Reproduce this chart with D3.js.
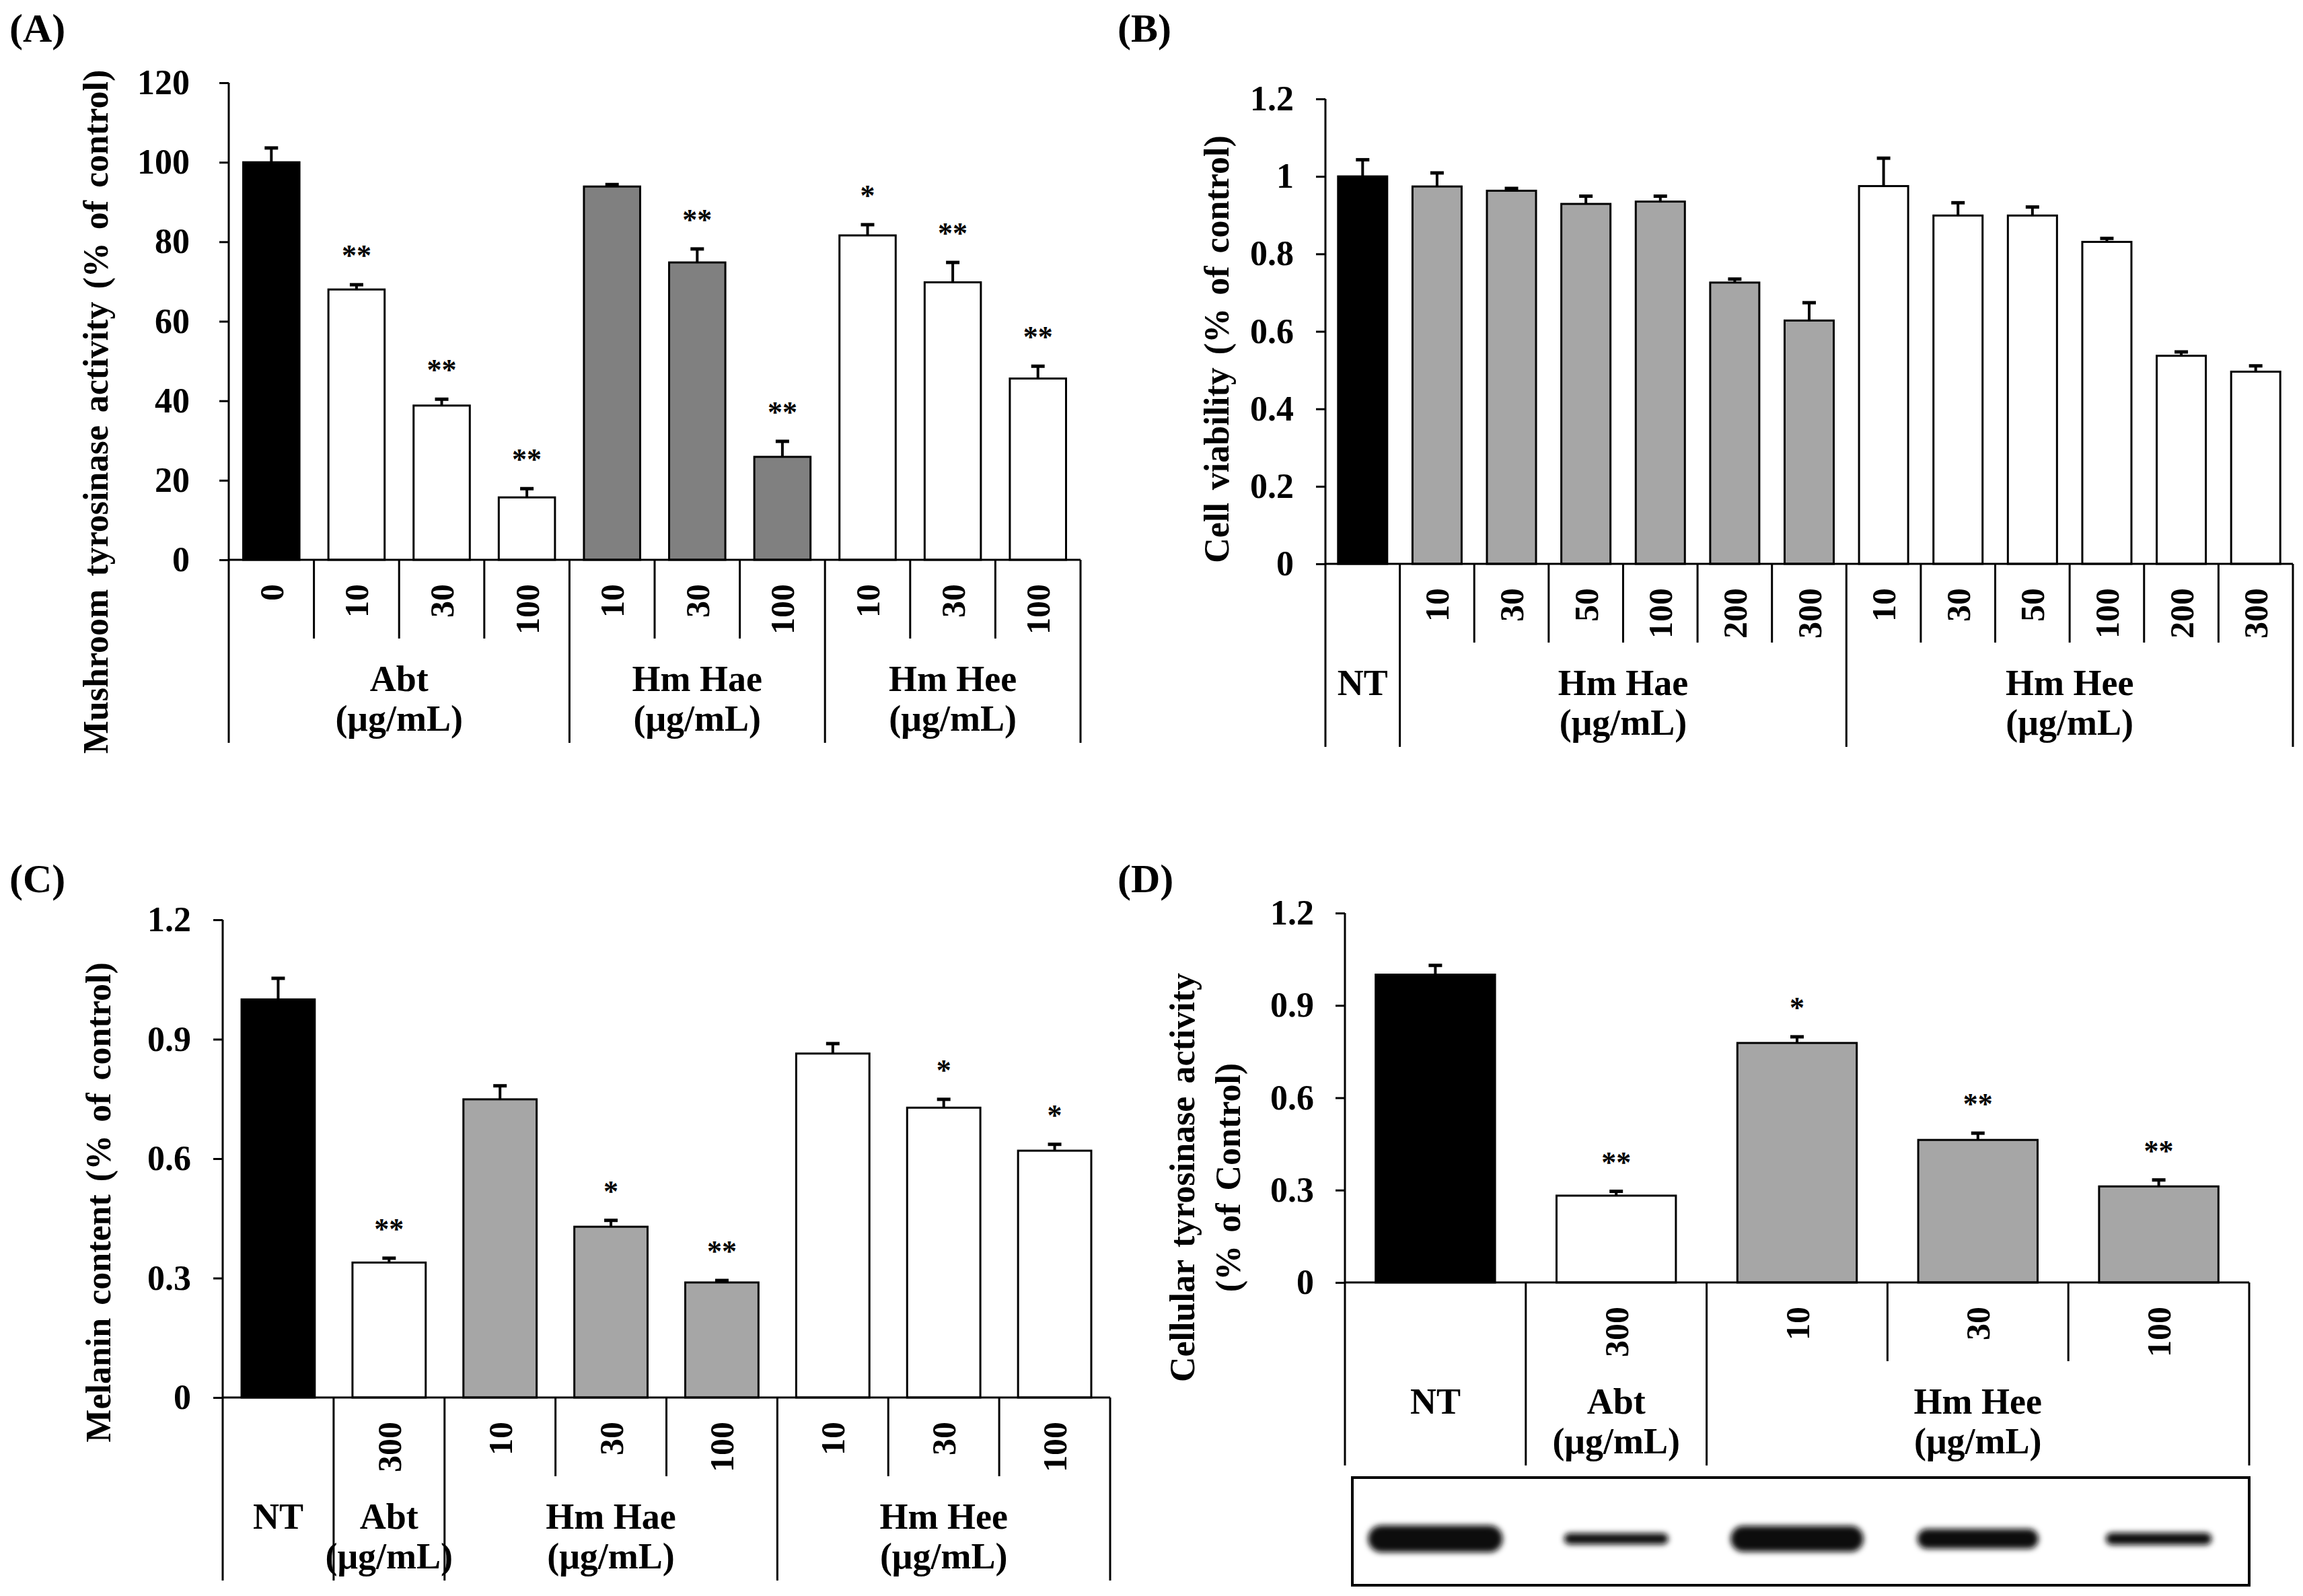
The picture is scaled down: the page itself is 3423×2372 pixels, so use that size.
<!DOCTYPE html>
<html>
<head>
<meta charset="utf-8">
<script src="https://cdn.jsdelivr.net/npm/d3@7"></script>
<style>
body { margin: 0; background: #fff; }
text { font-family: "Liberation Serif", "Times New Roman", serif; font-weight: bold; fill: #000; }
</style>
</head>
<body>
<div id="container"></div>
<script>
// (A) mushroom tyrosinase activity
const aCats = ["0", "10", "30", "100", "10", "30", "100", "10", "30", "100"];
const aSeries = ["abtCtl", "abt", "abt", "abt", "hae", "hae", "hae", "hee", "hee", "hee"];
const aValues = [100, 68.0, 38.8, 15.7, 93.9, 74.8, 25.9, 81.6, 69.8, 45.6];
const aErrors = [3.6, 1.2, 1.6, 2.2, 0.5, 3.4, 3.9, 2.7, 5.0, 3.1];
const aStars = ["", "**", "**", "**", "", "**", "**", "*", "**", "**"];
const aGroups = [["Abt", "(μg/mL)"], ["Hm Hae", "(μg/mL)"], ["Hm Hee", "(μg/mL)"]];
const aGroupSizes = [4, 3, 3];
const aTicks = [0, 20, 40, 60, 80, 100, 120];
const aTickLabels = ["0", "20", "40", "60", "80", "100", "120"];

// (B) cell viability
const bCats = ["", "10", "30", "50", "100", "200", "300", "10", "30", "50", "100", "200", "300"];
const bSeries = ["nt", "hae", "hae", "hae", "hae", "hae", "hae", "hee", "hee", "hee", "hee", "hee", "hee"];
const bValues = [1.0, 0.974, 0.963, 0.929, 0.935, 0.726, 0.628, 0.975, 0.899, 0.899, 0.831, 0.537, 0.496];
const bErrors = [0.043, 0.035, 0.006, 0.02, 0.014, 0.009, 0.046, 0.072, 0.033, 0.022, 0.009, 0.01, 0.015];
const bGroups = [["NT"], ["Hm Hae", "(μg/mL)"], ["Hm Hee", "(μg/mL)"]];
const bGroupSizes = [1, 6, 6];
const bTicks = [0, 0.2, 0.4, 0.6, 0.8, 1.0, 1.2];
const bTickLabels = ["0", "0.2", "0.4", "0.6", "0.8", "1", "1.2"];

// (C) melanin content
const cCats = ["", "300", "10", "30", "100", "10", "30", "100"];
const cSeries = ["nt", "abt", "hae", "hae", "hae", "hee", "hee", "hee"];
const cValues = [1.0, 0.339, 0.749, 0.429, 0.289, 0.864, 0.728, 0.620];
const cErrors = [0.053, 0.011, 0.034, 0.016, 0.005, 0.025, 0.021, 0.016];
const cStars = ["", "**", "", "*", "**", "", "*", "*"];
const cGroups = [["NT"], ["Abt", "(μg/mL)"], ["Hm Hae", "(μg/mL)"], ["Hm Hee", "(μg/mL)"]];
const cGroupSizes = [1, 1, 3, 3];
const cdTicks = [0, 0.3, 0.6, 0.9, 1.2];
const cdTickLabels = ["0", "0.3", "0.6", "0.9", "1.2"];

// (D) cellular tyrosinase activity
const dCats = ["", "300", "10", "30", "100"];
const dSeries = ["nt", "abt", "hee", "hee", "hee"];
const dValues = [1.0, 0.282, 0.778, 0.463, 0.312];
const dErrors = [0.03, 0.014, 0.02, 0.022, 0.021];
const dStars = ["", "**", "*", "**", "**"];
const dGroups = [["NT"], ["Abt", "(μg/mL)"], ["Hm Hee", "(μg/mL)"]];
const dGroupSizes = [1, 1, 3];
// relative band strength on the blot, one per lane
const dBlotBands = [1.0, 0.1, 0.95, 0.6, 0.15];

const width = 3423;
const height = 2372;

const svg = d3.select("#container").append("svg")
    .attr("width", width)
    .attr("height", height)
    .attr("viewBox", `0 0 ${width} ${height}`);

svg.append("rect").attr("width", width).attr("height", height).attr("fill", "#fff");

const defs = svg.append("defs");
defs.append("filter").attr("id", "blur")
    .attr("x", "-20%").attr("y", "-60%").attr("width", "140%").attr("height", "220%")
    .append("feGaussianBlur").attr("stdDeviation", 4);

function drawPanel(p) {
    const n = p.cats.length;
    const x = d3.scaleBand()
        .domain(d3.range(n))
        .range([p.left, p.right])
        .paddingInner(0)
        .paddingOuter(0);
    const y = d3.scaleLinear()
        .domain([0, p.yMax])
        .range([p.bottom, p.top]);
    const y0 = y(0);
    const bw = x.bandwidth();
    const barW = bw * 0.66;

    const g = svg.append("g");

    // panel letter
    g.append("text")
        .attr("x", p.letterX)
        .attr("y", p.letterY)
        .attr("font-size", 60)
        .text(p.letter);

    // y axis ticks + labels
    const yAxis = g.append("g")
        .attr("transform", `translate(${p.left},0)`)
        .call(d3.axisLeft(y)
            .tickValues(p.ticks)
            .tickFormat((d, i) => p.tickLabels[i])
            .tickSize(14)
            .tickSizeOuter(0)
            .tickPadding(p.tickPad));
    yAxis.select(".domain").remove();
    yAxis.selectAll(".tick line").attr("stroke", "#000").attr("stroke-width", 3);
    yAxis.selectAll(".tick text")
        .attr("font-size", 52)
        .attr("font-family", "Liberation Serif, serif")
        .attr("font-weight", "bold")
        .attr("fill", "#000");

    // y axis title
    p.title.forEach((t, i) => {
        g.append("text")
            .attr("transform", `translate(${p.titleX[i]},${p.titleY}) rotate(-90)`)
            .attr("text-anchor", "middle")
            .attr("dy", "0.35em")
            .attr("font-size", 52)
            .attr("word-spacing", 6)
            .text(t);
    });

    // bars
    g.append("g")
        .selectAll("rect")
        .data(p.values)
        .join("rect")
        .attr("x", (d, i) => x(i) + (bw - barW) / 2)
        .attr("y", d => y(d))
        .attr("width", barW)
        .attr("height", d => y0 - y(d))
        .attr("fill", (d, i) => p.colors[p.series[i]])
        .attr("stroke", "#000")
        .attr("stroke-width", 3);

    // error bars (upper only)
    const err = g.append("g")
        .selectAll("g")
        .data(p.values)
        .join("g");
    err.append("line")
        .attr("x1", (d, i) => x(i) + bw / 2)
        .attr("x2", (d, i) => x(i) + bw / 2)
        .attr("y1", d => y(d))
        .attr("y2", (d, i) => y(d + p.errors[i]))
        .attr("stroke", "#000")
        .attr("stroke-width", 4);
    err.append("line")
        .attr("x1", (d, i) => x(i) + bw / 2 - 10)
        .attr("x2", (d, i) => x(i) + bw / 2 + 10)
        .attr("y1", (d, i) => y(d + p.errors[i]))
        .attr("y2", (d, i) => y(d + p.errors[i]))
        .attr("stroke", "#000")
        .attr("stroke-width", 5);

    // significance stars
    if (p.stars) {
        g.append("g")
            .selectAll("text")
            .data(p.values)
            .join("text")
            .attr("x", (d, i) => x(i) + bw / 2)
            .attr("y", (d, i) => y(d + p.errors[i]) - 29)
            .attr("text-anchor", "middle")
            .attr("font-size", 44)
            .text((d, i) => p.stars[i]);
    }

    // axis lines
    g.append("line")
        .attr("x1", p.left).attr("x2", p.left)
        .attr("y1", y(p.yMax)).attr("y2", y0 + 272)
        .attr("stroke", "#000").attr("stroke-width", 3);
    g.append("line")
        .attr("x1", p.left).attr("x2", p.right)
        .attr("y1", y0).attr("y2", y0)
        .attr("stroke", "#000").attr("stroke-width", 3);

    // category dividers
    const groupEnds = d3.cumsum(p.groupSizes);
    const ends = new Set(Array.from(groupEnds));
    g.append("g")
        .selectAll("line")
        .data(d3.range(1, n + 1))
        .join("line")
        .attr("x1", i => p.left + i * bw)
        .attr("x2", i => p.left + i * bw)
        .attr("y1", y0)
        .attr("y2", i => ends.has(i) ? y0 + 272 : y0 + 117)
        .attr("stroke", "#000")
        .attr("stroke-width", 3);

    // rotated category labels
    g.append("g")
        .selectAll("text")
        .data(p.cats)
        .join("text")
        .attr("transform", (d, i) => `translate(${x(i) + bw / 2},${y0 + 36}) rotate(-90)`)
        .attr("text-anchor", "end")
        .attr("dy", "0.35em")
        .attr("font-size", 50)
        .text(d => d);

    // group labels
    let start = 0;
    p.groups.forEach((lines, gi) => {
        const cx = p.left + (start + p.groupSizes[gi] / 2) * bw;
        lines.forEach((t, li) => {
            g.append("text")
                .attr("x", cx)
                .attr("y", y0 + 195 + li * 59)
                .attr("text-anchor", "middle")
                .attr("font-size", 54)
                .text(t);
        });
        start += p.groupSizes[gi];
    });

    return { x, y, bw };
}

drawPanel({
    letter: "(A)", letterX: 14, letterY: 62,
    cats: aCats, series: aSeries, values: aValues, errors: aErrors, stars: aStars,
    groups: aGroups, groupSizes: aGroupSizes, ticks: aTicks, tickLabels: aTickLabels,
    colors: { abtCtl: "#000", abt: "#fff", hae: "#808080", hee: "#fff" },
    yMax: 120, left: 340, right: 1606, top: 123, bottom: 832, tickPad: 44,
    title: ["Mushroom  tyrosinase  activity  (%  of  control)"], titleX: [142], titleY: 612
});

drawPanel({
    letter: "(B)", letterX: 1661, letterY: 62,
    cats: bCats, series: bSeries, values: bValues, errors: bErrors, stars: null,
    groups: bGroups, groupSizes: bGroupSizes, ticks: bTicks, tickLabels: bTickLabels,
    colors: { nt: "#000", hae: "#a6a6a6", hee: "#fff" },
    yMax: 1.2, left: 1970, right: 3408, top: 147, bottom: 838, tickPad: 33,
    title: ["Cell  viability  (%  of  control)"], titleX: [1808], titleY: 519
});

drawPanel({
    letter: "(C)", letterX: 14, letterY: 1326,
    cats: cCats, series: cSeries, values: cValues, errors: cErrors, stars: cStars,
    groups: cGroups, groupSizes: cGroupSizes, ticks: cdTicks, tickLabels: cdTickLabels,
    colors: { nt: "#000", abt: "#fff", hae: "#a6a6a6", hee: "#fff" },
    yMax: 1.2, left: 331, right: 1650, top: 1367, bottom: 2077, tickPad: 33,
    title: ["Melanin  content  (%  of  control)"], titleX: [146], titleY: 1787
});

const dPanel = drawPanel({
    letter: "(D)", letterX: 1661, letterY: 1326,
    cats: dCats, series: dSeries, values: dValues, errors: dErrors, stars: dStars,
    groups: dGroups, groupSizes: dGroupSizes, ticks: cdTicks, tickLabels: cdTickLabels,
    colors: { nt: "#000", abt: "#fff", hee: "#a6a6a6" },
    yMax: 1.2, left: 1999, right: 3343, top: 1357, bottom: 1906, tickPad: 32,
    title: ["Cellular  tyrosinase  activity", "(%  of  Control)"], titleX: [1757, 1825], titleY: 1750
});

// western blot strip under panel D
const blot = svg.append("g");
blot.append("rect")
    .attr("x", 2010).attr("y", 2196)
    .attr("width", 1333).attr("height", 160)
    .attr("fill", "#fff")
    .attr("stroke", "#000")
    .attr("stroke-width", 4);
blot.append("g")
    .attr("filter", "url(#blur)")
    .selectAll("rect")
    .data(dBlotBands)
    .join("rect")
    .attr("x", (d, i) => dPanel.x(i) + dPanel.bw / 2 - (150 + 50 * d) / 2)
    .attr("y", d => 2287 - (14 + 26 * d) / 2)
    .attr("width", d => 150 + 50 * d)
    .attr("height", d => 14 + 26 * d)
    .attr("rx", d => (14 + 26 * d) / 2)
    .attr("fill", "#0a0a0a");
</script>
</body>
</html>
